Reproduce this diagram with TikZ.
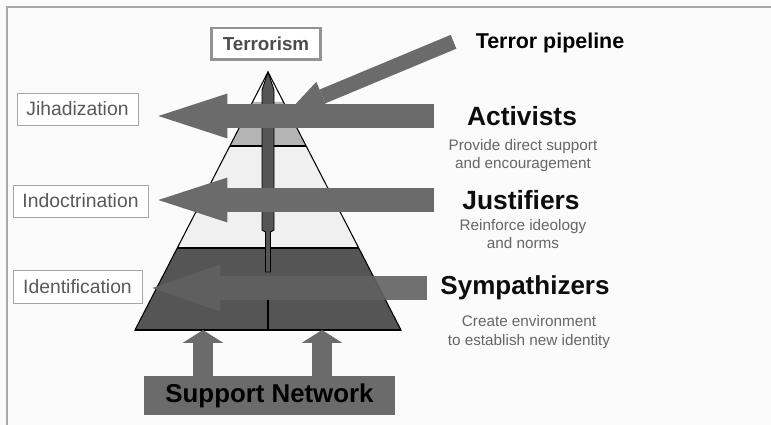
\documentclass[tikz,border=0pt]{standalone}
\usepackage{fontspec}
\setmainfont{Liberation Sans}
\usetikzlibrary{arrows.meta}

\definecolor{paper}{HTML}{FBFBFB}
\definecolor{framegray}{HTML}{A8A8A8}
\definecolor{arrowgray}{HTML}{6B6B6B}
\definecolor{darkband}{HTML}{555555}
\definecolor{midband}{HTML}{B5B5B5}
\definecolor{lightband}{HTML}{F0F0F0}

\begin{document}
\begin{tikzpicture}[x=0.02cm, y=-0.02cm,
  stage/.style={draw=gray!70, fill=white, text=black!65, minimum height=0.64cm, inner sep=0, font=\fontsize{11}{13}\selectfont},
  role/.style={inner sep=0, text=black!95, font=\fontsize{15}{18}\selectfont\bfseries},
  note/.style={align=center, inner sep=0, text=black!60, font=\fontsize{8.7}{10.2}\selectfont},
  bigarrow/.style={draw=arrowgray, line width=14.2pt, -{Triangle[length=39.3pt, width=25.6pt, line width=0pt]}},
  uparrow/.style={draw=arrowgray, line width=11.4pt, -{Triangle[length=7.4pt, width=23.3pt, line width=0pt]}},
  pipearrow/.style={draw=arrowgray, line width=8.5pt, -{Triangle[length=20pt, width=18pt, line width=0pt]}}]
\useasboundingbox (0,0) rectangle (771,425);
\fill[paper] (0,0) rectangle (771,425);
\draw[framegray, line width=1.2pt] (7,425) -- (7,7) -- (771,7);

% Pyramid
\coordinate (apex) at (268,72);
\coordinate (baseL) at (135,330);
\coordinate (baseR) at (401,330);
\fill[white] (apex) -- (229.9,146) -- (306.1,146) -- cycle;
\fill[midband] (252.5,102) -- (283.5,102) -- (306.1,146) -- (229.9,146) -- cycle;
\fill[lightband] (229.9,146) -- (306.1,146) -- (358.7,248) -- (177.3,248) -- cycle;
\fill[darkband] (177.3,248) -- (358.7,248) -- (baseR) -- (baseL) -- cycle;
\draw[line width=0.6pt] (apex) -- (baseL) -- (baseR) -- cycle;
\draw[line width=0.6pt] (229.9,146) -- (306.1,146);
\draw[line width=0.6pt] (177.3,248) -- (358.7,248);
\draw[line width=1.2pt] (baseL) -- (baseR);

% Pipeline through the pyramid
\fill[darkband, draw=black, line width=0.5pt] (apex) -- (274,90) -- (274,230) -- (270.5,232) -- (270.5,272) -- (265.5,272) -- (265.5,232) -- (262,230) -- (262,90) -- cycle;
\draw[line width=1.3pt] (268,299) -- (268,330);

% Labels
\node[draw=gray!85, line width=1.7pt, fill=white, text=black!70, minimum width=2.2cm, minimum height=0.64cm, inner sep=0, font=\fontsize{10.7}{13}\selectfont\bfseries] (terror) at (266,44) {Terrorism};
\node[inner sep=0, font=\fontsize{12.2}{14}\selectfont\bfseries] (pipe) at (550,43) {Terror pipeline};
\node[stage, minimum width=2.42cm] (jih) at (77.5,109) {Jihadization};
\node[stage, minimum width=2.7cm] (ind) at (80.5,201) {Indoctrination};
\node[stage, minimum width=2.58cm, minimum height=0.66cm] (ide) at (77.5,286.5) {Identification};
\node[role] (act) at (522,116) {Activists};
\node[role] (jus) at (521,200) {Justifiers};
\node[role, font=\fontsize{14.8}{18}\selectfont\bfseries] (sym) at (525,288) {Sympathizers};
\node[note] (actnote) at (523,156) {Provide direct support\\and encouragement};
\node[note] (jusnote) at (523,234) {Reinforce ideology\\and norms};
\node[note, font=\fontsize{8.7}{10.8}\selectfont] (symnote) at (529,332.5) {Create environment\\to establish new identity};
\node[fill=arrowgray, minimum width=5.02cm, minimum height=0.78cm, inner sep=0, font=\fontsize{14.7}{17}\selectfont\bfseries] (net) at (269.5,395.5) {Support Network};

% Arrows
\coordinate (pipetip) at (290,110);
\draw[pipearrow, shorten <=13.5pt] (pipe.north west) -- (pipetip);
\draw[bigarrow, shorten <=18.5pt, shorten >=11.4pt] (act.west) -- (act.west -| jih.east);
\draw[bigarrow, shorten <=16pt, shorten >=5.7pt] (jus.west) -- (jus.west -| ind.east);
\draw[bigarrow, draw=black!62, opacity=0.9, line width=13.7pt, -{Triangle[length=38.7pt, width=26.7pt, line width=0pt]}, shorten <=7.4pt, shorten >=5.7pt] (sym.west) -- (sym.west -| ide.east);
\coordinate (feedL) at (203,330);
\coordinate (feedR) at (322,330);
\draw[uparrow] (net.north -| feedL) -- (feedL);
\draw[uparrow] (net.north -| feedR) -- (feedR);
\end{tikzpicture}
\end{document}
